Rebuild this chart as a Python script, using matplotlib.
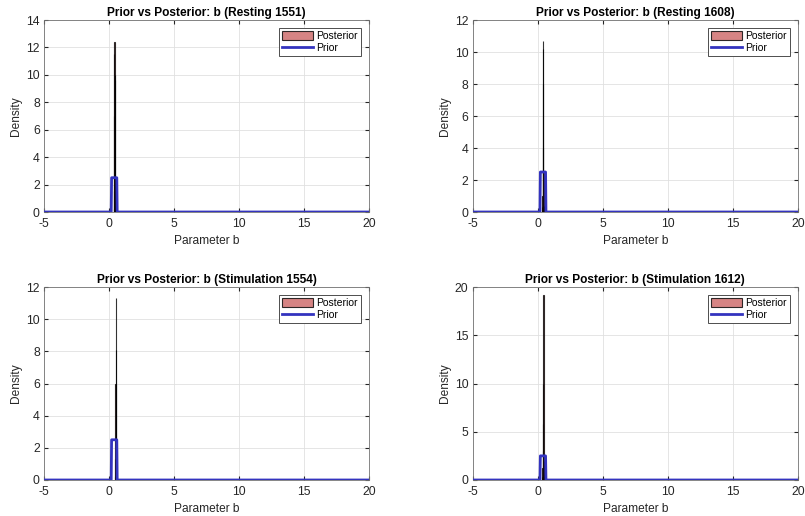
import matplotlib
matplotlib.use("Agg")
import matplotlib.pyplot as plt
import numpy as np

plt.rcParams['font.family'] = ['Liberation Sans', 'DejaVu Sans']
plt.rcParams['axes.unicode_minus'] = False

titles = ["Prior vs Posterior: b (Resting 1551)",
          "Prior vs Posterior: b (Resting 1608)",
          "Prior vs Posterior: b (Stimulation 1554)",
          "Prior vs Posterior: b (Stimulation 1612)"]

bin_width = 0.015
post_start = [0.36, 0.34, 0.46, 0.34]
post_heights = [
    [0.2, 1.5, 7.0, 11.5, 12.4, 10.0, 9.6, 2.0, 0.3],
    [0.3, 1.0, 4.0, 10.2, 10.7, 8.0, 2.5, 0.4],
    [0.2, 1.3, 6.0, 11.3, 8.1, 2.0, 0.3],
    [0.3, 1.2, 0.8, 3.0, 5.8, 10.0, 19.2, 2.0, 0.3],
]
ylims = [14, 12, 12, 20]
yticks = [[0, 2, 4, 6, 8, 10, 12, 14], [0, 2, 4, 6, 8, 10, 12],
          [0, 2, 4, 6, 8, 10, 12], [0, 5, 10, 15, 20]]

prior_x = [-5, 0.17, 0.2, 0.6, 0.63, 20]
prior_y = [0, 0, 2.5, 2.5, 0, 0]
xticks = [-5, 0, 5, 10, 15, 20]

fig = plt.figure(figsize=(8.05, 5.16), dpi=100)
W, H = 805, 516
positions = [(44, 20, 369, 212), (472.7, 20, 798, 212),
             (44, 287, 369, 480), (472.7, 287, 798, 480)]

txt = (0.15, 0.15, 0.15)
for i in range(4):
    l, t, r, b = positions[i]
    ax = fig.add_axes([l / W, 1 - b / H, (r - l) / W, (b - t) / H])
    n = len(post_heights[i])
    lefts = post_start[i] + bin_width * np.arange(n)
    hb = ax.bar(lefts, post_heights[i], width=bin_width, align='edge',
                color=(0.8, 0.4, 0.4), alpha=0.8, edgecolor='black', linewidth=0.8,
                label='Posterior', zorder=2)
    hp, = ax.plot(prior_x, prior_y, color=(0.2, 0.2, 0.75), linewidth=2, label='Prior', zorder=3)
    ax.set_xlim(-5, 20)
    ax.set_ylim(0, ylims[i])
    ax.set_xticks(xticks)
    ax.set_yticks(yticks[i])
    ax.grid(True, color=(0.88, 0.88, 0.88), linewidth=0.6, zorder=0)
    ax.set_axisbelow(True)
    ax.tick_params(direction='in', length=3, labelsize=8.8, colors=txt,
                   top=True, right=True)
    ax.tick_params(axis='x', pad=4)
    ax.tick_params(axis='y', pad=3)
    for s in ax.spines.values():
        s.set_color((0.45, 0.45, 0.45))
        s.set_linewidth(0.6)
    ax.set_title(titles[i], fontsize=8.6, fontweight='bold', pad=3)
    ax.set_xlabel('Parameter b', fontsize=8.6, color=txt, labelpad=4)
    ax.set_ylabel('Density', fontsize=8.6, color=txt, labelpad=3)
    leg = ax.legend([hb, hp], ['Posterior', 'Prior'], loc='upper right', fontsize=7.5,
                    frameon=True, fancybox=False,
                    borderpad=0.3, handlelength=3.0, handleheight=0.9,
                    handletextpad=0.3, labelspacing=0.2, borderaxespad=0.75)
    leg.get_frame().set_edgecolor((0.3, 0.3, 0.3))
    leg.get_frame().set_linewidth(0.7)
    leg.get_frame().set_alpha(1)

fig.savefig('out.png', dpi=100)
